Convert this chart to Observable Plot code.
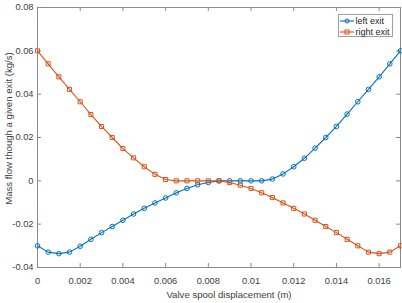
<!DOCTYPE html>
<html>
<head>
<meta charset="utf-8">
<script src="https://cdn.jsdelivr.net/npm/d3@7"></script>
<script src="https://cdn.jsdelivr.net/npm/@observablehq/plot@0.6"></script>
<style>
  body { margin: 0; background: #fff; font-family: "Liberation Sans", Arial, sans-serif; }
  #chart { position: relative; width: 402px; height: 303px; }
  .legend { position: absolute; left: 338px; top: 14px; width: 55px; height: 23px; box-sizing: border-box;
            border: 1px solid #a0a0a0; background: #fff; font-size: 9px; color: #262626; padding-top: 0.5px; }
  .legend .row { display: flex; align-items: center; height: 10.8px; white-space: nowrap; }
  .legend svg { margin-left: 1px; margin-right: 1.5px; }
</style>
</head>
<body>
<div id="chart"></div>
<script>
// Valve spool displacement (m)
const displacement = [0, 0.0005, 0.001, 0.0015, 0.002, 0.0025, 0.003, 0.0035, 0.004, 0.0045,
  0.005, 0.0055, 0.006, 0.0065, 0.007, 0.0075, 0.008, 0.0085, 0.009, 0.0095,
  0.01, 0.0105, 0.011, 0.0115, 0.012, 0.0125, 0.013, 0.0135, 0.014, 0.0145,
  0.015, 0.0155, 0.016, 0.0165, 0.017];

// Mass flow through each exit (kg/s)
const leftExit = [-0.030, -0.0329, -0.0336, -0.0329, -0.0302, -0.0270, -0.0239, -0.0211, -0.0182, -0.0153,
  -0.0127, -0.0102, -0.0079, -0.0055, -0.0035, -0.0018, -0.0008, 0, 0, 0,
  0, 0, 0.0008, 0.0032, 0.0065, 0.0104, 0.0151, 0.0200, 0.0251, 0.0308,
  0.0365, 0.0422, 0.0480, 0.0540, 0.0600];
const rightExit = [0.0600, 0.0540, 0.0480, 0.0422, 0.0365, 0.0306, 0.0251, 0.0200, 0.0149, 0.0106,
  0.0065, 0.0030, 0.0006, 0, 0, 0, 0, 0, -0.0008, -0.0020,
  -0.0035, -0.0055, -0.0077, -0.0102, -0.0127, -0.0153, -0.0182, -0.0211, -0.0239, -0.0270,
  -0.0300, -0.0329, -0.0336, -0.0329, -0.0300];

const seriesNames = ["left exit", "right exit"];
const seriesColors = ["#0072BD", "#D95319"];
const seriesSymbols = ["circle", "square"];

const xTicks = [0, 0.002, 0.004, 0.006, 0.008, 0.01, 0.012, 0.014, 0.016];
const yTicks = [-0.04, -0.02, 0, 0.02, 0.04, 0.06, 0.08];

const xLabel = "Valve spool displacement (m)";
const yLabel = "Mass flow though a given exit (kg/s)";

const rows = [];
[leftExit, rightExit].forEach((values, s) => {
  values.forEach((v, i) => rows.push({x: displacement[i], y: v, series: seriesNames[s]}));
});

const W = 402, H = 303;
const margin = {top: 7, right: 2, bottom: 36, left: 37};
const innerW = W - margin.left - margin.right;
const innerH = H - margin.top - margin.bottom;
const tickLen = 4;
const fmt = d => d === 0 ? "0" : String(d);
const axisColor = "#8a8a8a";
const textColor = "#404040";

const plot = Plot.plot({
  width: W,
  height: H,
  marginTop: margin.top,
  marginRight: margin.right,
  marginBottom: margin.bottom,
  marginLeft: margin.left,
  style: {fontFamily: "'Liberation Sans', Arial, sans-serif", fontSize: "9.3px", color: textColor, background: "#fff"},
  x: {domain: [0, 0.017]},
  y: {domain: [-0.04, 0.08]},
  color: {domain: seriesNames, range: seriesColors},
  symbol: {domain: seriesNames, range: seriesSymbols},
  marks: [
    Plot.frame({stroke: axisColor}),
    // inward ticks on all four sides
    Plot.tickX(xTicks, {x: d => d, stroke: axisColor, insetTop: innerH - tickLen}),
    Plot.tickX(xTicks, {x: d => d, stroke: axisColor, insetBottom: innerH - tickLen}),
    Plot.tickY(yTicks, {y: d => d, stroke: axisColor, insetRight: innerW - tickLen}),
    Plot.tickY(yTicks, {y: d => d, stroke: axisColor, insetLeft: innerW - tickLen}),
    Plot.axisX({ticks: xTicks, tickSize: 0, tickPadding: 10, tickFormat: fmt, label: null, fontSize: 9.3}),
    Plot.axisY({ticks: yTicks, tickSize: 0, tickPadding: 4, tickFormat: fmt, label: null, fontSize: 9.3}),
    // axis titles
    Plot.text([xLabel], {text: d => d, frameAnchor: "bottom", textAnchor: "middle", lineAnchor: "middle",
      dx: 10, dy: 27, fontSize: 9.6, fill: textColor}),
    Plot.text([yLabel], {text: d => d, frameAnchor: "left", textAnchor: "middle", lineAnchor: "middle",
      rotate: -90, dx: -29, dy: -9, fontSize: 9.6, fill: textColor}),
    Plot.line(rows, {x: "x", y: "y", z: "series", stroke: "series", strokeWidth: 1.1}),
    Plot.dot(rows, {x: "x", y: "y", stroke: "series", symbol: "series", r: 2.3, strokeWidth: 1, fill: "none"})
  ]
});

const chart = document.getElementById("chart");
chart.appendChild(plot);

// legend box in the upper-right corner of the axes
const legend = document.createElement("div");
legend.className = "legend";
seriesNames.forEach((name, i) => {
  const row = document.createElement("div");
  row.className = "row";
  const marker = seriesSymbols[i] === "circle"
    ? `<circle cx="7" cy="4" r="2" fill="none" stroke="${seriesColors[i]}" stroke-width="1"/>`
    : `<rect x="5" y="2" width="4" height="4" fill="none" stroke="${seriesColors[i]}" stroke-width="1"/>`;
  row.innerHTML = `<svg width="14" height="8"><line x1="0" y1="4" x2="14" y2="4" stroke="${seriesColors[i]}" stroke-width="1.1"/>${marker}</svg><span>${name}</span>`;
  legend.appendChild(row);
});
chart.appendChild(legend);
</script>
</body>
</html>
